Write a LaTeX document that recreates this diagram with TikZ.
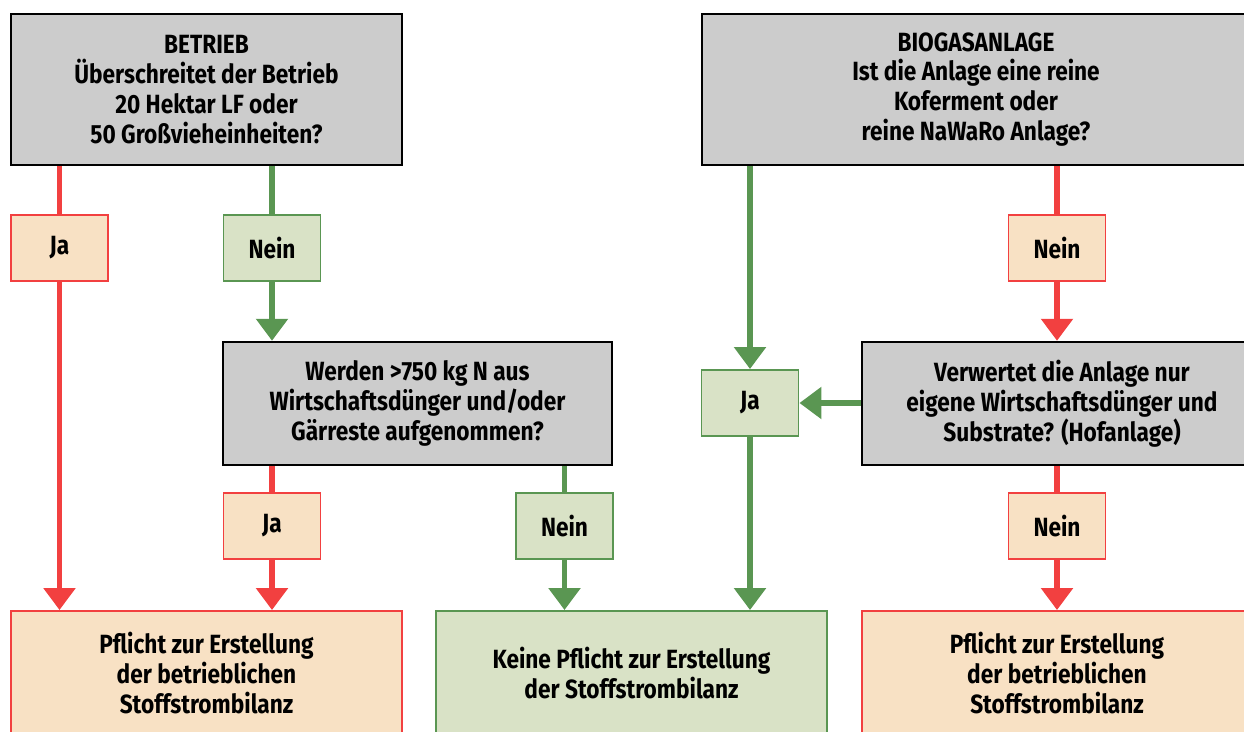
\documentclass[tikz,border=0pt]{standalone}
\usepackage{fontspec}
\setmainfont{Fira Sans}[FakeStretch=0.86]
\usetikzlibrary{arrows.meta}
\definecolor{boxgray}{HTML}{CCCCCC}
\definecolor{jared}{HTML}{F24040}
\definecolor{jafill}{HTML}{F8E1C4}
\definecolor{neingreen}{HTML}{5A9652}
\definecolor{neinfill}{HTML}{D9E2C6}
\begin{document}
\begin{tikzpicture}[x=0.02cm,y=-0.02cm,
  every node/.style={font=\fontsize{15}{17}\selectfont\bfseries, align=center, inner sep=0pt},
  question/.style={draw=black, fill=boxgray, line width=1.4pt, minimum height=3.02cm},
  redbox/.style={draw=jared, fill=jafill, line width=1.1pt},
  greenbox/.style={draw=neingreen, fill=neinfill, line width=1.1pt},
  small/.style={minimum width=1.94cm, minimum height=1.32cm},
  redline/.style={draw=jared, line width=3.4pt},
  greenline/.style={draw=neingreen, line width=3.4pt},
  tip/.style={-{Triangle[width=0.62cm,length=0.44cm]}}]
\useasboundingbox (0,0) rectangle (1244,732);
\clip (0,0) rectangle (1244,732);
% questions
\node [question, minimum width=7.82cm] (betrieb) at (206.5,89.5)
  {BETRIEB\\Überschreitet der Betrieb\\20 Hektar LF oder\\50 Großvieheinheiten?};
\node [question, minimum width=10.96cm] (biogas) at (976,89.5)
  {BIOGASANLAGE\\Ist die Anlage eine reine\\Koferment oder\\reine NaWaRo Anlage?};
\node [question, minimum width=7.78cm, minimum height=2.46cm] (werden) at (417.5,403.5)
  {Werden >750 kg N aus\\Wirtschaftsdünger und/oder\\Gärreste aufgenommen?};
\node [question, minimum width=8cm, minimum height=2.46cm] (verwertet) at (1062,403.5)
  {Verwertet die Anlage nur\\eigene Wirtschaftsdünger und\\Substrate? (Hofanlage)};
% answers
\node [redbox, small] (jaA) at (59.5,248) {Ja};
\node [greenbox, small] (neinA) at (272,248) {Nein};
\node [redbox, small] (jaB) at (272,526) {Ja};
\node [greenbox, small] (neinB) at (564.5,526) {Nein};
\node [redbox, small] (neinC) at (1057,248) {Nein};
\node [greenbox, small] (jaC) at (750,403) {Ja};
\node [redbox, small] (neinD) at (1057,526) {Nein};
% results
\node [redbox, minimum width=7.82cm, minimum height=2.48cm] (pflichtL) at (206.5,673)
  {Pflicht zur Erstellung\\der betrieblichen\\Stoffstrombilanz};
\node [greenbox, minimum width=7.82cm, minimum height=2.48cm] (keine) at (631.5,673)
  {Keine Pflicht zur Erstellung\\der Stoffstrombilanz};
\node [redbox, minimum width=7.8cm, minimum height=2.48cm] (pflichtR) at (1057,673)
  {Pflicht zur Erstellung\\der betrieblichen\\Stoffstrombilanz};
% connectors
\draw [redline] (betrieb.south -| jaA) -- (jaA.north);
\draw [redline, tip] (jaA.south) -- (pflichtL.north -| jaA);
\draw [greenline] (betrieb.south -| neinA) -- (neinA.north);
\draw [greenline, tip] (neinA.south) -- (werden.north -| neinA);
\draw [redline] (werden.south -| jaB) -- (jaB.north);
\draw [redline, tip] (jaB.south) -- (pflichtL.north -| jaB);
\draw [greenline] (werden.south -| neinB) -- (neinB.north);
\draw [greenline, tip] (neinB.south) -- (keine.north -| neinB);
\draw [greenline, tip] (biogas.south -| jaC) -- (jaC.north);
\draw [greenline, tip] (jaC.south) -- (keine.north -| jaC);
\draw [redline] (biogas.south -| neinC) -- (neinC.north);
\draw [redline, tip] (neinC.south) -- (verwertet.north -| neinC);
\draw [greenline, tip] (verwertet.west |- jaC) -- (jaC.east);
\draw [redline] (verwertet.south -| neinD) -- (neinD.north);
\draw [redline, tip] (neinD.south) -- (pflichtR.north -| neinD);
\end{tikzpicture}
\end{document}
